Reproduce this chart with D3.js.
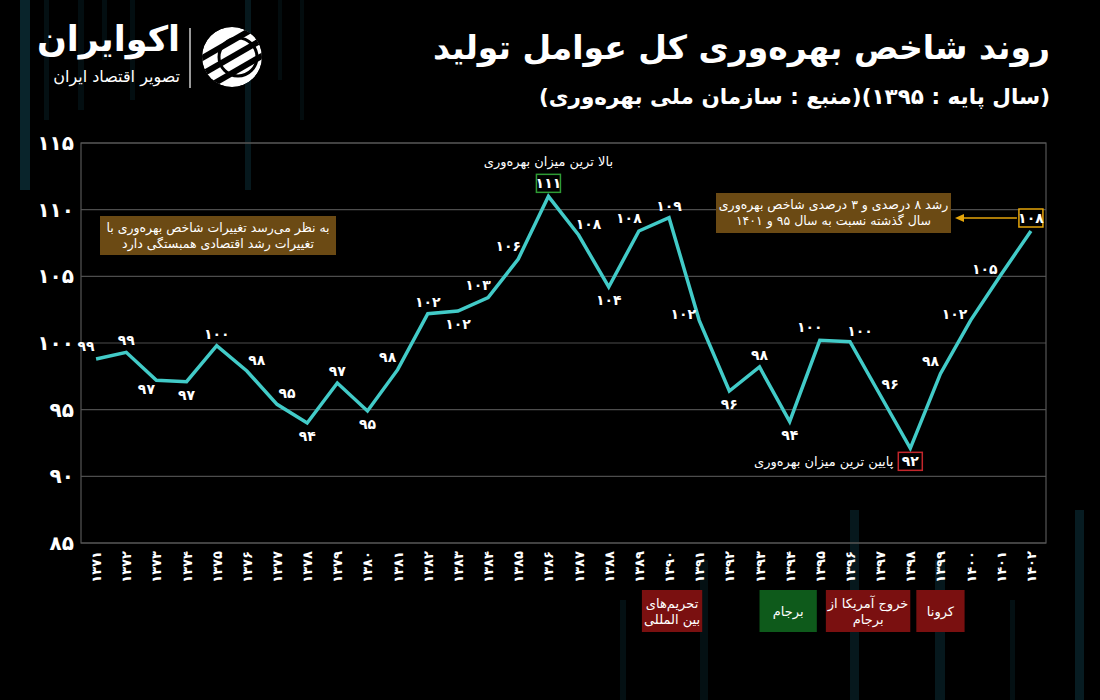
<!DOCTYPE html>
<html><head><meta charset="utf-8">
<script src="https://cdn.jsdelivr.net/npm/d3@7"></script>
<style>
html,body{margin:0;padding:0;background:#000;}
#wrap{position:relative;width:1100px;height:700px;overflow:hidden;background:#000;}
svg{position:absolute;left:0;top:0;}
.t{position:absolute;direction:rtl;color:#fff;font-family:"DejaVu Sans",sans-serif;font-weight:bold;white-space:nowrap;}
</style></head><body><div id="wrap"></div>
<script>
// ---------- data ----------
const years = [1371,1372,1373,1374,1375,1376,1377,1378,1379,1380,1381,1382,1383,1384,1385,1386,1387,1388,1389,1390,1391,1392,1393,1394,1395,1396,1397,1398,1399,1400,1401,1402];
const values = [98.8,99.3,97.2,97.1,99.8,97.9,95.4,94.0,97.0,94.9,98.0,102.2,102.4,103.4,106.3,111.0,108.1,104.2,108.4,109.4,101.7,96.4,98.2,94.1,100.2,100.1,96.1,92.1,97.7,101.7,105.1,108.4];
const labelPlacement = ["al","a","bl","b","a","ar","ar","b","a","b","al","a","b","al","al","box","ar","b","al","a","l","b","a","b","al","ar","ar","box","al","l","l","box"];
const yTicks = [85,90,95,100,105,110,115];
const highlightYears = [1386,1398,1402];
const highlightColors = ["#2e9b34","#c3262b","#e5a50a"];
const highlightSide = ["above","below","above"];
const highlightNotes = ["بالا ترین میزان بهره‌وری","پایین ترین میزان بهره‌وری",""];
const eventLabels = [["تحریم‌های","بین المللی"],["برجام"],["خروج آمریکا از","برجام"],["کرونا"]];
const eventStart = [1389.1,1393.0,1395.2,1398.2];
const eventEnd = [1391.1,1394.9,1398.0,1399.8];
const eventColors = ["#7a1010","#0e5a1b","#7a1010","#7a1010"];
const title = "روند شاخص بهره‌وری کل عوامل تولید";
const subtitle = "(سال پایه : ۱۳۹۵)(منبع : سازمان ملی بهره‌وری)";
const note1 = ["به نظر می‌رسد تغییرات شاخص بهره‌وری با","تغییرات رشد اقتصادی همبستگی دارد"];
const note2 = ["رشد ۸ درصدی و ۳ درصدی شاخص بهره‌وری","سال گذشته نسبت به سال ۹۵ و ۱۴۰۱"];

const fa = n => String(n).replace(/\d/g, d => "۰۱۲۳۴۵۶۷۸۹"[d]);
const FONT = '"DejaVu Sans", sans-serif';

const W = 1100, H = 700;
const L = 81, R = 1046, T = 143, B = 543;
const wrap = d3.select("#wrap");
const svg = wrap.append("svg").attr("width", W).attr("height", H);

// decorative faint bars
const deco = [[20,10,0,190,0.9],[44,5,0,120,0.4],[78,6,0,110,0.35],[102,5,0,60,0.35],[130,5,0,100,0.35],[245,6,0,190,0.6],[278,4,0,80,0.3],[300,4,0,120,0.3],
  [620,6,600,100,0.4],[700,8,560,140,0.4],[850,9,510,190,0.6],[935,10,560,140,0.6],[1010,5,600,100,0.4],[1075,9,510,190,0.7]];
svg.append("g").selectAll("rect").data(deco).join("rect")
  .attr("x",d=>d[0]).attr("width",d=>d[1]).attr("y",d=>d[2]).attr("height",d=>d[3])
  .attr("fill","#0a2830").attr("opacity",d=>d[4]);

const x = d3.scalePoint().domain(years).range([L, R]).padding(0.5);
const y = d3.scaleLinear().domain([85,115]).range([B, T]);

// grid
svg.append("g").selectAll("line").data(yTicks).join("line")
  .attr("x1",L).attr("x2",R).attr("y1",d=>y(d)).attr("y2",d=>y(d))
  .attr("stroke","#4d4d4d").attr("stroke-width",1.2);
svg.append("rect").attr("x",L).attr("y",T).attr("width",R-L).attr("height",B-T)
  .attr("fill","none").attr("stroke","#555").attr("stroke-width",1.2);

// y axis labels
svg.append("g").selectAll("text").data(yTicks).join("text")
  .attr("x",74).attr("y",d=>y(d)).attr("dy","0.35em")
  .attr("text-anchor","end").attr("fill","#fff")
  .style("font-family",FONT).style("font-size","20px").style("font-weight","bold")
  .text(d=>fa(d));

// x axis labels
svg.append("g").selectAll("text").data(years).join("text")
  .attr("transform",d=>`translate(${x(d)+5},551) rotate(-90)`)
  .attr("text-anchor","end").attr("fill","#fff")
  .style("font-family",FONT).style("font-size","13px").style("font-weight","bold")
  .text(d=>fa(d));

// line
const pts = years.map((yr,i)=>({yr, v:values[i], p:labelPlacement[i]}));
svg.append("path").datum(pts)
  .attr("d", d3.line().x(d=>x(d.yr)).y(d=>y(d.v)))
  .attr("fill","none").attr("stroke","#42cbc8").attr("stroke-width",3.5)
  .attr("stroke-linejoin","miter");

// point labels
const off = {a:[0,-12],b:[0,13],al:[-10,-13],ar:[10,-11],bl:[-10,9],l:[-16,-6]};
svg.append("g").selectAll("text").data(pts.filter(d=>d.p!=="box")).join("text")
  .attr("x",d=>x(d.yr)+off[d.p][0]).attr("y",d=>y(d.v)+off[d.p][1]).attr("dy","0.35em")
  .attr("text-anchor","middle").attr("fill","#fff")
  .style("font-family",FONT).style("font-size","14px").style("font-weight","bold")
  .text(d=>fa(Math.round(d.v)));

// highlighted points
highlightYears.forEach((yr,i)=>{
  const v = values[years.indexOf(yr)];
  const cx = x(yr), cy = y(v) + (highlightSide[i]==="above" ? -13 : 13);
  const g = svg.append("g");
  g.append("rect").attr("x",cx-12).attr("y",cy-9).attr("width",24).attr("height",18)
    .attr("fill","#000").attr("stroke",highlightColors[i]).attr("stroke-width",1.5);
  g.append("text").attr("x",cx).attr("y",cy).attr("dy","0.35em").attr("text-anchor","middle")
    .attr("fill","#fff").style("font-family",FONT).style("font-size","14px").style("font-weight","bold")
    .text(fa(Math.round(v)));
  if (highlightNotes[i]) {
    if (highlightSide[i]==="above") {
      g.append("text").attr("x",cx).attr("y",cy-22).attr("dy","0.35em").attr("text-anchor","middle")
        .attr("direction","rtl").attr("fill","#fff").style("font-family",FONT).style("font-size","13px")
        .text(highlightNotes[i]);
    } else {
      g.append("text").attr("x",cx-17).attr("y",cy).attr("dy","0.35em").attr("text-anchor","end")
        .attr("fill","#fff").style("font-family",FONT).style("font-size","13px")
        .text(highlightNotes[i]);
    }
  }
});

// notes
function noteBox(x0,y0,w,h,lines){
  const g = svg.append("g");
  g.append("rect").attr("x",x0).attr("y",y0).attr("width",w).attr("height",h).attr("fill","#6b4a14");
  lines.forEach((s,i)=>{
    g.append("text").attr("x",x0+w/2).attr("y",y0+h/2+(i-(lines.length-1)/2)*16).attr("dy","0.35em")
      .attr("text-anchor","middle").attr("direction","rtl").attr("fill","#fff")
      .style("font-family",FONT).style("font-size","12.5px").text(s);
  });
}
noteBox(100,216,236,39,note1);
noteBox(716,193,235,40,note2);

// arrow from 1402 box to note2
const ax = x(1402)-14, ay = y(values[years.length-1])-13;
svg.append("line").attr("x1",ax).attr("y1",ay).attr("x2",962).attr("y2",ay)
  .attr("stroke","#e5a50a").attr("stroke-width",1.5);
svg.append("path").attr("d",`M955,${ay} L964,${ay-4} L964,${ay+4} Z`).attr("fill","#e5a50a");

// event boxes
eventLabels.forEach((lines,i)=>{
  const x0 = x(1371) + (eventStart[i]-1371)*x.step();
  const x1 = x(1371) + (eventEnd[i]-1371)*x.step();
  const g = svg.append("g");
  g.append("rect").attr("x",x0).attr("y",590).attr("width",x1-x0).attr("height",42).attr("fill",eventColors[i]);
  lines.forEach((s,j)=>{
    g.append("text").attr("x",(x0+x1)/2).attr("y",611+(j-(lines.length-1)/2)*16).attr("dy","0.35em")
      .attr("text-anchor","middle").attr("direction","rtl").attr("fill","#fff")
      .style("font-family",FONT).style("font-size","13px").text(s);
  });
});

// logo
const lg = svg.append("g");
const clip = svg.append("clipPath").attr("id","lc");
clip.append("circle").attr("cx",232).attr("cy",57).attr("r",30);
const lc = lg.append("g").attr("clip-path","url(#lc)");
lc.append("circle").attr("cx",232).attr("cy",57).attr("r",30).attr("fill","#fff");
[-14,0,14].forEach(o=>{
  lc.append("rect").attr("x",190).attr("y",57+o-3).attr("width",90).attr("height",6)
    .attr("fill","#000").attr("transform",`rotate(-30,232,57)`);
});
lc.append("circle").attr("cx",238).attr("cy",57).attr("r",19).attr("fill","none").attr("stroke","#000").attr("stroke-width",3);
lg.append("line").attr("x1",190).attr("x2",190).attr("y1",28).attr("y2",88).attr("stroke","#ccc").attr("stroke-width",1.5);

// HTML texts
wrap.append("div").attr("class","t").style("right","50px").style("top","28px").style("font-size","33px").text(title);
wrap.append("div").attr("class","t").style("right","50px").style("top","84px").style("font-size","21.5px").text(subtitle);
wrap.append("div").attr("class","t").style("right",(1100-180)+"px").style("top","19px").style("font-size","35px").text("اکوایران");
wrap.append("div").attr("class","t").style("right",(1100-180)+"px").style("top","67px").style("font-size","16px").style("font-weight","normal").text("تصویر اقتصاد ایران");
</script></body></html>
